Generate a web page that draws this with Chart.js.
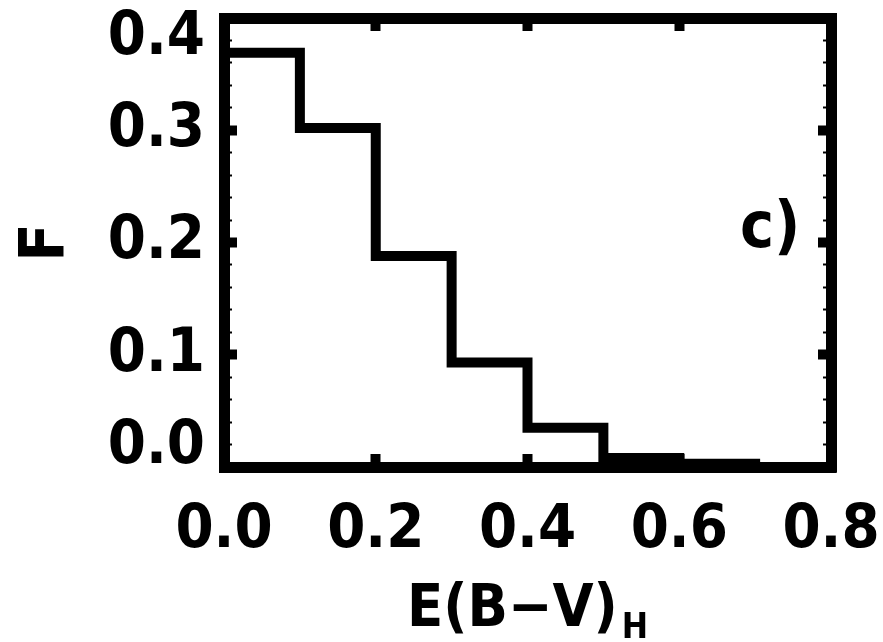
<!DOCTYPE html>
<html>
<head>
<meta charset="utf-8">
<script src="https://cdn.jsdelivr.net/npm/chart.js@4/dist/chart.umd.min.js"></script>
<style>
  html, body { margin: 0; padding: 0; background: #ffffff; }
  #wrap { width: 883px; height: 642px; }
</style>
</head>
<body>
<div id="wrap"><canvas id="histo" width="883" height="642"></canvas></div>
<script>
// Histogram of E(B-V)_H: fraction of objects per 0.1-wide bin
const binEdges = [0.0, 0.1, 0.2, 0.3, 0.4, 0.5, 0.6, 0.7, 0.8];
const fraction = [0.369, 0.302, 0.188, 0.093, 0.035, 0.008, 0.003, 0.0];

const xTickLabels = ['0.0', '0.2', '0.4', '0.6', '0.8'];
const yTickLabels = ['0.0', '0.1', '0.2', '0.3', '0.4'];
const xTitleMain = 'E(B\u2212V)';
const xTitleSub = 'H';
const yTitle = 'F';
const panelTag = 'c)';

const INK = '#000000';
const FAMILY = "'DejaVu Sans Condensed', 'DejaVu Sans', sans-serif";

// step points: each bin holds its value from its left edge to the next edge
const stepPoints = fraction.map((v, i) => ({ x: binEdges[i], y: v }));
stepPoints.push({ x: binEdges[binEdges.length - 1], y: fraction[fraction.length - 1] });

// fixed box sizes so the frame sits where it should
function fixBox(w, h) {
  return function (scale) {
    if (w !== null) scale.width = w;
    if (h !== null) scale.height = h;
    scale.paddingLeft = 0; scale.paddingRight = 0;
    scale.paddingTop = 0; scale.paddingBottom = 0;
  };
}

const frameBorder = { display: true, color: INK, width: 11 };
const majorGrid = { drawOnChartArea: false, drawTicks: true, tickLength: -13, tickWidth: 10, color: INK };
const minorGrid = { drawOnChartArea: false, drawTicks: true, tickLength: -8, tickWidth: 2, color: INK };

// x-axis title with subscript, and the panel tag inside the frame
const extraText = {
  id: 'extraText',
  afterDraw(chart) {
    const ctx = chart.ctx;
    const area = chart.chartArea;
    const xs = chart.scales.x, ys = chart.scales.y;
    ctx.save();
    ctx.fillStyle = INK;
    ctx.textBaseline = 'alphabetic';
    ctx.textAlign = 'left';
    const mainFont = 'bold 59px ' + FAMILY;
    const subFont = 'bold 35px ' + FAMILY;
    ctx.font = mainFont;
    const w1 = ctx.measureText(xTitleMain).width;
    ctx.font = subFont;
    const w2 = ctx.measureText(xTitleSub).width;
    const gap = 4;
    const cx = (area.left + area.right) / 2;
    const x0 = cx - (w1 + gap + w2) / 2;
    const base = area.bottom + 159;
    ctx.font = mainFont;
    ctx.fillText(xTitleMain, x0, base);
    ctx.font = subFont;
    ctx.fillText(xTitleSub, x0 + w1 + gap, base + 12);

    ctx.font = 'bold 64px ' + FAMILY;
    ctx.fillText(panelTag, xs.getPixelForValue(0.68), ys.getPixelForValue(0.196));
    ctx.restore();
  }
};

new Chart(document.getElementById('histo'), {
  type: 'line',
  data: {
    datasets: [{
      data: stepPoints,
      stepped: 'before',
      borderColor: INK,
      borderWidth: 10,
      borderJoinStyle: 'miter',
      borderCapStyle: 'butt',
      pointRadius: 0,
      fill: false,
      tension: 0
    }]
  },
  options: {
    responsive: false,
    devicePixelRatio: 1,
    animation: false,
    layout: { padding: 0 },
    plugins: { legend: { display: false }, tooltip: { enabled: false } },
    scales: {
      x: {
        type: 'linear', position: 'bottom', min: 0, max: 0.8, weight: 1,
        afterFit: fixBox(null, 175),
        border: frameBorder, grid: majorGrid,
        ticks: {
          stepSize: 0.2, autoSkip: false, maxRotation: 0, color: INK, padding: 41,
          font: { family: FAMILY, weight: 'bold', size: 61 },
          callback: (v, i) => xTickLabels[i]
        }
      },
      xTop: {
        type: 'linear', position: 'top', min: 0, max: 0.8, weight: 1,
        afterFit: fixBox(null, 18),
        border: frameBorder, grid: majorGrid,
        ticks: { display: false, stepSize: 0.2 }
      },
      y: {
        type: 'linear', position: 'left', min: 0, max: 0.4, weight: 1,
        afterFit: fixBox(224, null),
        border: frameBorder, grid: majorGrid,
        title: {
          display: true, text: yTitle, color: INK, padding: { top: 10, bottom: 0 },
          font: { family: FAMILY, weight: 'bold', size: 62 }
        },
        ticks: {
          stepSize: 0.1, autoSkip: false, color: INK, padding: 32,
          font: { family: FAMILY, weight: 'bold', size: 61, lineHeight: '40px' },
          callback: (v, i, all) => {
            const s = yTickLabels[i];
            if (i === 0) return [s, ''];
            if (i === all.length - 1) return ['', s];
            return s;
          }
        }
      },
      yMinorL: {
        type: 'linear', position: 'left', min: 0, max: 0.4, weight: 0,
        afterFit: fixBox(0, null),
        border: { display: false }, grid: minorGrid,
        ticks: { display: false, stepSize: 0.02, maxTicksLimit: 100 }
      },
      yRight: {
        type: 'linear', position: 'right', min: 0, max: 0.4, weight: 1,
        afterFit: fixBox(52, null),
        border: frameBorder, grid: majorGrid,
        ticks: { display: false, stepSize: 0.1 }
      },
      yMinorR: {
        type: 'linear', position: 'right', min: 0, max: 0.4, weight: 0,
        afterFit: fixBox(0, null),
        border: { display: false }, grid: minorGrid,
        ticks: { display: false, stepSize: 0.02, maxTicksLimit: 100 }
      }
    }
  },
  plugins: [extraText]
});
</script>
</body>
</html>
